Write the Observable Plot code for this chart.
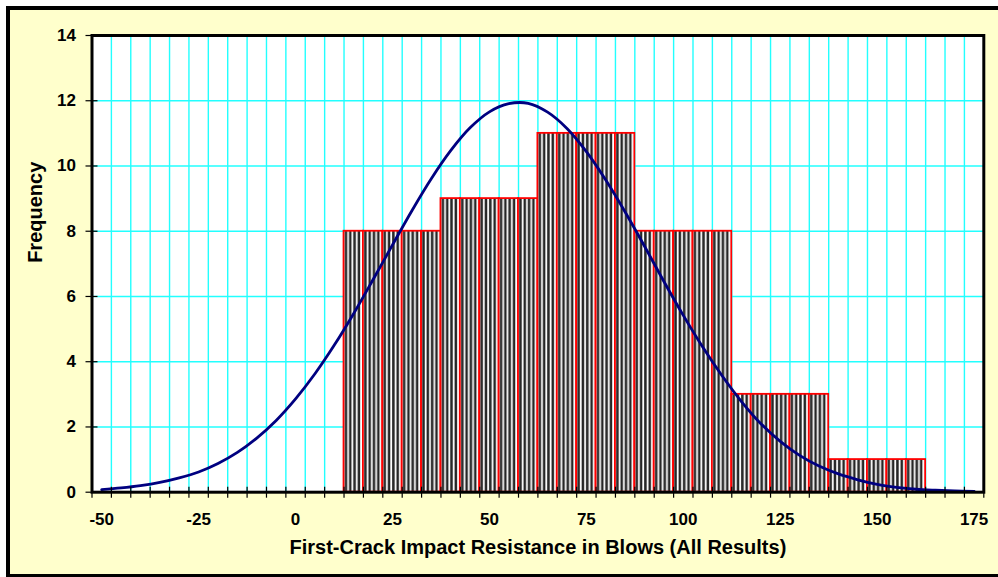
<!DOCTYPE html>
<html>
<head>
<meta charset="utf-8">
<script src="https://cdn.jsdelivr.net/npm/d3@7"></script>
<script src="https://cdn.jsdelivr.net/npm/@observablehq/plot@0.6"></script>
<style>
  html, body { margin: 0; padding: 0; background: #ffffff; overflow: hidden; }
  #bg { position: absolute; left: 6px; top: 6px; width: 1020px; height: 571px; box-sizing: border-box;
        background: #FFFFCC; border-left: 4px solid #000; border-top: 4px solid #000; border-bottom: 3px solid #000; }
  #chart { position: absolute; left: 0; top: 0; }
</style>
</head>
<body>
<div id="bg"></div>
<div id="chart"></div>
<script>
// Category centres (blows), bin width 5
const categories = [-50,-45,-40,-35,-30,-25,-20,-15,-10,-5,0,5,10,15,20,25,30,35,40,45,50,55,60,65,70,75,80,85,90,95,100,105,110,115,120,125,130,135,140,145,150,155,160,165,170,175];
const frequency  = [0,0,0,0,0,0,0,0,0,0,0,0,0,8,8,8,8,8,9,9,9,9,9,11,11,11,11,11,8,8,8,8,8,3,3,3,3,3,1,1,1,1,1,0,0,0];
// Fitted normal curve at each category
const normalFit  = [0.08,0.13,0.20,0.30,0.44,0.62,0.88,1.22,1.66,2.20,2.86,3.63,4.51,5.48,6.52,7.58,8.63,9.61,10.47,11.17,11.66,11.91,11.92,11.65,11.15,10.44,9.57,8.59,7.54,6.46,5.42,4.45,3.57,2.78,2.10,1.56,1.13,0.80,0.56,0.38,0.24,0.15,0.09,0.06,0.04,0.025];
const xTickLabels = [-50,-25,0,25,50,75,100,125,150,175];
const yTickLabels = [0,2,4,6,8,10,12,14];
const binWidth = 5;

const rows = categories.map((c, i) => ({c, f: frequency[i], n: normalFit[i]}));
const boundaries = categories.map(c => c - binWidth / 2).concat([categories[categories.length - 1] + binWidth / 2]);
const yGrid = yTickLabels.filter(v => v > 0 && v < 14);

const chart = Plot.plot({
  width: 998,
  height: 577,
  marginLeft: 91.5,
  marginRight: 14.7,
  marginTop: 35,
  marginBottom: 85.3,
  style: {background: "transparent", fontFamily: "'Liberation Sans', Arial, sans-serif", fontWeight: "bold", fontSize: "17px", color: "#000"},
  x: {domain: [boundaries[0], boundaries[boundaries.length - 1]]},
  y: {domain: [0, 14]},
  marks: [
    Plot.frame({fill: "white", stroke: null}),
    Plot.gridX({ticks: boundaries.slice(1, -1), stroke: "#22FFFF", strokeOpacity: 1, strokeWidth: 1.4}),
    Plot.gridY({ticks: yGrid, stroke: "#22FFFF", strokeOpacity: 1, strokeWidth: 1.4}),
    Plot.rect(rows.filter(d => d.f > 0), {
      x1: d => d.c - binWidth / 2, x2: d => d.c + binWidth / 2,
      y1: 0, y2: d => d.f,
      fill: "url(#stripes)", stroke: "#FF0000", strokeWidth: 1.8
    }),
    Plot.line(rows, {x: "c", y: "n", curve: "catmull-rom", stroke: "#000080", strokeWidth: 2.8}),
    Plot.frame({stroke: "#000", strokeWidth: 3}),
    Plot.axisX({ticks: boundaries, tickSize: 11, dy: -5, tickFormat: () => "", label: null, stroke: "#000", strokeOpacity: 1, strokeWidth: 1.2}),
    Plot.axisX({ticks: xTickLabels, tickSize: 0, tickPadding: 21, tickFormat: d => String(d), label: null, fontSize: 17, fontWeight: "bold"}),
    Plot.axisY({ticks: yTickLabels, tickSize: 12, dx: 6, tickFormat: () => "", label: null, stroke: "#000", strokeOpacity: 1, strokeWidth: 1.2}),
    Plot.axisY({ticks: yTickLabels, tickSize: 0, tickPadding: 16, tickFormat: d => String(d), label: null, fontSize: 17, fontWeight: "bold"}),
    Plot.text(["First-Crack Impact Resistance in Blows (All Results)"], {text: d => d, frameAnchor: "bottom", dy: 62, fontSize: 20, fontWeight: "bold", fill: "#000"}),
    Plot.text(["Frequency"], {text: d => d, frameAnchor: "left", rotate: -90, dx: -56, dy: -1, fontSize: 20, fontWeight: "bold", fill: "#000"})
  ]
});

// striped fill pattern aligned to category widths (from the x scale)
const xs = chart.scale("x");
const x0 = xs.apply(boundaries[0]);
const w = xs.apply(boundaries[1]) - x0;
const ns = "http://www.w3.org/2000/svg";
const defs = document.createElementNS(ns, "defs");
const pat = document.createElementNS(ns, "pattern");
pat.setAttribute("id", "stripes");
pat.setAttribute("patternUnits", "userSpaceOnUse");
pat.setAttribute("x", x0);
pat.setAttribute("y", 0);
pat.setAttribute("width", w);
pat.setAttribute("height", 10);
const bgRect = document.createElementNS(ns, "rect");
bgRect.setAttribute("width", w); bgRect.setAttribute("height", 10); bgRect.setAttribute("fill", "#ffffff");
pat.appendChild(bgRect);
[0.125, 0.348, 0.571, 0.794].forEach(p => {
  const r = document.createElementNS(ns, "rect");
  r.setAttribute("x", p * w - 1.25);
  r.setAttribute("width", 2.5);
  r.setAttribute("height", 10);
  r.setAttribute("fill", "#262626");
  pat.appendChild(r);
});
defs.appendChild(pat);
chart.insertBefore(defs, chart.firstChild);

document.getElementById("chart").appendChild(chart);
</script>
</body>
</html>
